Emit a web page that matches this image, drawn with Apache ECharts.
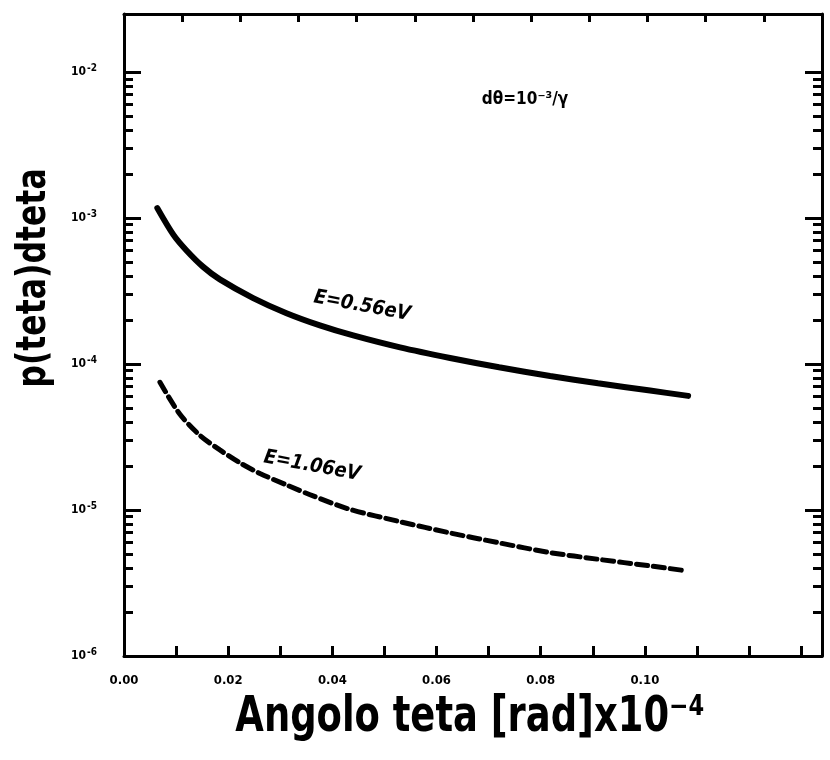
<!DOCTYPE html>
<html>
<head>
<meta charset="utf-8">
<script src="https://cdn.jsdelivr.net/npm/echarts@6/dist/echarts.min.js"></script>
<style>
html,body{margin:0;padding:0;background:#fff;}
#chart{width:830px;height:760px;}
</style>
</head>
<body>
<div id="chart"></div>
<script>
// ---- data ----
const xSolid = [0.0064, 0.0095, 0.0120, 0.0152, 0.0184, 0.0248, 0.0312, 0.0376, 0.0440, 0.0530, 0.0626, 0.0720, 0.0818, 0.0910, 0.1010, 0.1083];
const ySolid = [1.17e-3, 7.67e-4, 6.00e-4, 4.63e-4, 3.80e-4, 2.83e-4, 2.23e-4, 1.84e-4, 1.57e-4, 1.30e-4, 1.10e-4, 9.5e-5, 8.28e-5, 7.38e-5, 6.58e-5, 6.05e-5];
const xDashed = [0.0069, 0.0107, 0.0146, 0.0184, 0.0223, 0.0261, 0.0313, 0.0363, 0.0434, 0.0530, 0.0626, 0.0720, 0.0818, 0.0910, 0.1010, 0.1073];
const yDashed = [7.50e-5, 4.55e-5, 3.24e-5, 2.58e-5, 2.10e-5, 1.78e-5, 1.48e-5, 1.25e-5, 1.01e-5, 8.32e-6, 6.97e-6, 5.96e-6, 5.11e-6, 4.60e-6, 4.14e-6, 3.86e-6];
const xLabelValues = [0, 0.02, 0.04, 0.06, 0.08, 0.10];
const yMajorValues = [1e-6, 1e-5, 1e-4, 1e-3, 1e-2];
const yMajorExponents = ['-6', '-5', '-4', '-3', '-2'];
const seriesNames = ['E=0.56eV', 'E=1.06eV'];
const xTitle = 'Angolo teta [rad]x10⁻⁴';
const yTitle = 'p(teta)dteta';
const note = 'dθ=10⁻³/γ';

const yMinorValues = [];
for (let k = 0; k < 4; k++) {
  for (let m = 2; m <= 9; m++) yMinorValues.push(+(m * yMajorValues[k]).toPrecision(3));
}

const FONT = '"DejaVu Sans Condensed", "DejaVu Sans", sans-serif';
const black = '#000';
const gridBox = {left: 124, right: 8, top: 14, bottom: 104};

function pairs(xs, ys) { return xs.map((x, i) => [x, ys[i]]); }

const chart = echarts.init(document.getElementById('chart'), null, {renderer: 'canvas'});

const yBase = {type: 'log', min: 1e-6, max: 0.025, logBase: 10, splitLine: {show: false}, minorTick: {show: false}};

chart.setOption({
  backgroundColor: '#fff',
  animation: false,
  grid: gridBox,
  xAxis: [
    {
      type: 'value', position: 'bottom', min: 0, max: 0.134, interval: 0.01,
      axisLine: {lineStyle: {color: black, width: 3}},
      axisTick: {inside: true, length: 10, lineStyle: {color: black, width: 3}},
      axisLabel: {customValues: xLabelValues, formatter: v => v.toFixed(2), color: black,
        fontFamily: FONT, fontWeight: 'bold', fontSize: 13, margin: 18},
      splitLine: {show: false}
    },
    {
      type: 'value', position: 'top', min: 0, max: 12, interval: 1,
      axisLine: {lineStyle: {color: black, width: 3}},
      axisTick: {inside: true, length: 8, lineStyle: {color: black, width: 3}},
      axisLabel: {show: false}, splitLine: {show: false}
    }
  ],
  yAxis: [
    Object.assign({}, yBase, {
      position: 'left',
      axisLine: {show: true, lineStyle: {color: black, width: 3}},
      axisTick: {show: true, inside: true, length: 17, customValues: yMajorValues, lineStyle: {color: black, width: 3}},
      axisLabel: {customValues: yMajorValues,
        formatter: v => '{b|10}{s|' + yMajorExponents[Math.round(Math.log10(v)) + 6] + '}',
        color: black, fontFamily: FONT, fontWeight: 'bold', fontSize: 12, margin: 27,
        rich: {
          b: {fontFamily: FONT, fontWeight: 'bold', fontSize: 12, color: black},
          s: {fontFamily: FONT, fontWeight: 'bold', fontSize: 10, color: black, padding: [0, 0, 8, 1]}
        }}
    }),
    Object.assign({}, yBase, {
      position: 'left',
      axisLine: {show: false},
      axisTick: {show: true, inside: true, length: 9, customValues: yMinorValues, lineStyle: {color: black, width: 3}},
      axisLabel: {show: false}
    }),
    Object.assign({}, yBase, {
      position: 'right',
      axisLine: {show: true, onZero: false, lineStyle: {color: black, width: 3}},
      axisTick: {show: true, inside: true, length: 17, customValues: yMajorValues, lineStyle: {color: black, width: 3}},
      axisLabel: {show: false}
    }),
    Object.assign({}, yBase, {
      position: 'right',
      axisLine: {show: false},
      axisTick: {show: true, inside: true, length: 9, customValues: yMinorValues, lineStyle: {color: black, width: 3}},
      axisLabel: {show: false}
    })
  ],
  series: [
    {
      name: seriesNames[0], type: 'line', xAxisIndex: 0, yAxisIndex: 0,
      data: pairs(xSolid, ySolid), smooth: 0.3, showSymbol: false,
      lineStyle: {color: black, width: 6, cap: 'round'}
    },
    {
      name: seriesNames[1], type: 'line', xAxisIndex: 0, yAxisIndex: 0,
      data: pairs(xDashed, yDashed), smooth: 0.3, showSymbol: false,
      lineStyle: {color: black, width: 5, type: [11, 6], cap: 'round'}
    }
  ],
  graphic: [
    {type: 'text', x: 470, y: 718, style: {text: xTitle, fontFamily: FONT, fontWeight: 'bold', fontSize: 41,
      fill: black, align: 'center', verticalAlign: 'middle'}, scaleY: 1.2},
    {type: 'text', x: 35, y: 278, rotation: Math.PI / 2, style: {text: yTitle, fontFamily: FONT, fontWeight: 'bold', fontSize: 35,
      fill: black, align: 'center', verticalAlign: 'middle'}, scaleY: 1.15},
    {type: 'text', x: 525, y: 100, style: {text: note, fontFamily: FONT, fontWeight: 'bold', fontSize: 17,
      fill: black, align: 'center', verticalAlign: 'middle'}},
    {type: 'text', x: 362, y: 306, rotation: -0.18, style: {text: seriesNames[0], fontFamily: FONT, fontWeight: 'bold', fontStyle: 'italic', fontSize: 20,
      fill: black, align: 'center', verticalAlign: 'middle'}},
    {type: 'text', x: 312, y: 466, rotation: -0.18, style: {text: seriesNames[1], fontFamily: FONT, fontWeight: 'bold', fontStyle: 'italic', fontSize: 20,
      fill: black, align: 'center', verticalAlign: 'middle'}}
  ]
});
</script>
</body>
</html>
